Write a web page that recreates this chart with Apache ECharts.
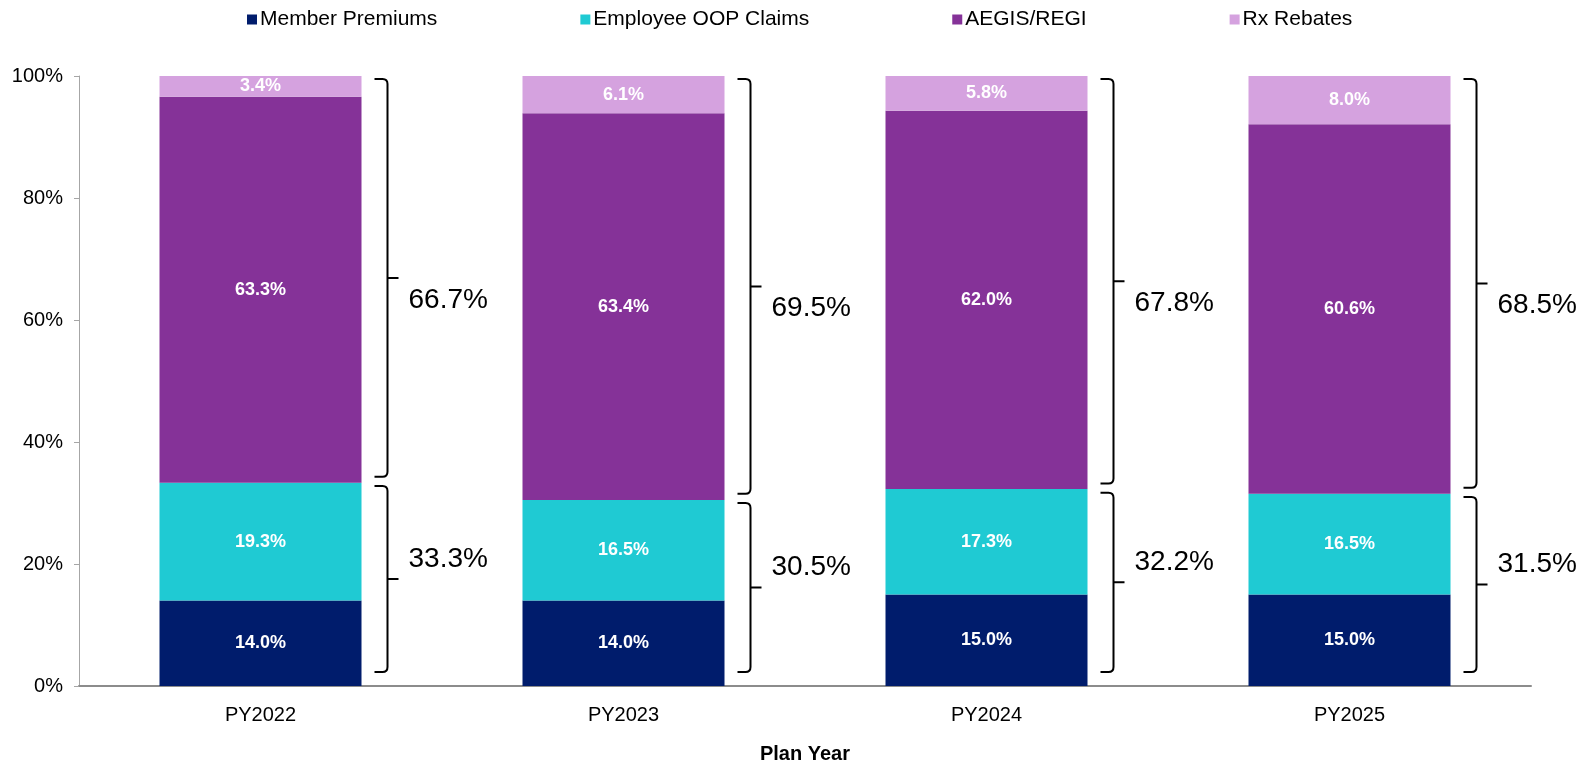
<!DOCTYPE html>
<html>
<head>
<meta charset="utf-8">
<script src="https://cdn.jsdelivr.net/npm/echarts@6/dist/echarts.min.js"></script>
<style>
  html, body { margin: 0; padding: 0; background: #fff; }
  #chart { width: 1583px; height: 769px; }
</style>
</head>
<body>
<div id="chart"></div>
<script>
// data
const categories = ['PY2022', 'PY2023', 'PY2024', 'PY2025']
const memberPremiums = [14.0, 14.0, 15.0, 15.0]
const employeeOOP = [19.3, 16.5, 17.3, 16.5]
const aegisRegi = [63.3, 63.4, 62.0, 60.6]
const rxRebates = [3.4, 6.1, 5.8, 8.0]
// bracket totals (member side / plan side)
const memberShare = [33.3, 30.5, 32.2, 31.5]
const planShare = [66.7, 69.5, 67.8, 68.5]

const FONT = '"Liberation Sans", Arial, sans-serif'

const barLabel = {
  show: true,
  position: 'inside',
  color: '#fff',
  fontWeight: 'bold',
  fontSize: 18,
  fontFamily: FONT,
  formatter: p => p.value.toFixed(1) + '%'
}

function bar(name, data, color) {
  return {
    name,
    type: 'bar',
    stack: 'total',
    data,
    barWidth: 202,
    itemStyle: { color },
    label: barLabel,
    emphasis: { disabled: true }
  }
}

// draws the two curly braces and their totals next to each bar
function renderBraces(params, api) {
  const i = api.value(0)
  const low = api.value(1)
  const top = low + api.value(2)
  const c = api.coord([i, 0])[0]
  const x0 = c + 114, x1 = c + 127, x2 = c + 138, r = 5

  function brace(from, to) {
    const yB = api.coord([i, from])[1]
    const yT = api.coord([i, to])[1]
    const yM = (yB + yT) / 2
    return {
      yM,
      el: {
        type: 'path',
        shape: {
          pathData: `M${x0} ${yT} L${x1 - r} ${yT} Q${x1} ${yT} ${x1} ${yT + r} L${x1} ${yB - r} Q${x1} ${yB} ${x1 - r} ${yB} L${x0} ${yB} M${x1} ${yM} L${x2} ${yM}`
        },
        style: { stroke: '#000', lineWidth: 2, fill: null }
      }
    }
  }

  const lower = brace(2.3, low - 0.5)
  const upper = brace(low + 1, top - 0.5)
  const txt = (text, y) => ({
    type: 'text',
    style: {
      text, x: c + 148, y,
      fill: '#000', fontSize: 28, fontFamily: FONT,
      verticalAlign: 'middle', align: 'left'
    }
  })
  return {
    type: 'group',
    children: [
      lower.el, upper.el,
      txt(api.value(1).toFixed(1) + '%', lower.yM - 20),
      txt(api.value(2).toFixed(1) + '%', upper.yM + 22)
    ]
  }
}

const chart = echarts.init(document.getElementById('chart'))
chart.setOption({
  animation: false,
  textStyle: { fontFamily: FONT },
  legend: {
    top: 4,
    left: 242,
    itemGap: 143,
    itemWidth: 10,
    itemHeight: 10,
    icon: 'rect',
    textStyle: { fontSize: 21, color: '#000', fontFamily: FONT, padding: [0, 0, 0, -2] },
    data: ['Member Premiums', 'Employee OOP Claims', 'AEGIS/REGI', 'Rx Rebates']
  },
  grid: { left: 79, right: 52, top: 76, bottom: 79 },
  xAxis: {
    type: 'category',
    data: categories,
    name: 'Plan Year',
    nameLocation: 'middle',
    nameGap: 58,
    nameTextStyle: { fontSize: 20, fontWeight: 'bold', color: '#000', fontFamily: FONT },
    axisLine: { lineStyle: { color: '#8c8c8c', width: 2 } },
    axisTick: { show: false },
    axisLabel: { fontSize: 20, color: '#000', margin: 19, fontFamily: FONT }
  },
  yAxis: {
    type: 'value',
    min: 0,
    max: 100,
    interval: 20,
    axisLine: { show: true, lineStyle: { color: '#a6a6a6', width: 1 } },
    axisTick: { show: true, length: 5, lineStyle: { color: '#a6a6a6' } },
    splitLine: { show: false },
    axisLabel: { fontSize: 20, color: '#000', margin: 16, fontFamily: FONT, formatter: '{value}%' }
  },
  series: [
    bar('Member Premiums', memberPremiums, '#001c6c'),
    bar('Employee OOP Claims', employeeOOP, '#1fcad3'),
    bar('AEGIS/REGI', aegisRegi, '#853298'),
    bar('Rx Rebates', rxRebates, '#d5a2df'),
    {
      type: 'custom',
      renderItem: renderBraces,
      data: categories.map((c, i) => [i, memberShare[i], planShare[i]]),
      z: 5,
      silent: true
    }
  ]
})
</script>
</body>
</html>
